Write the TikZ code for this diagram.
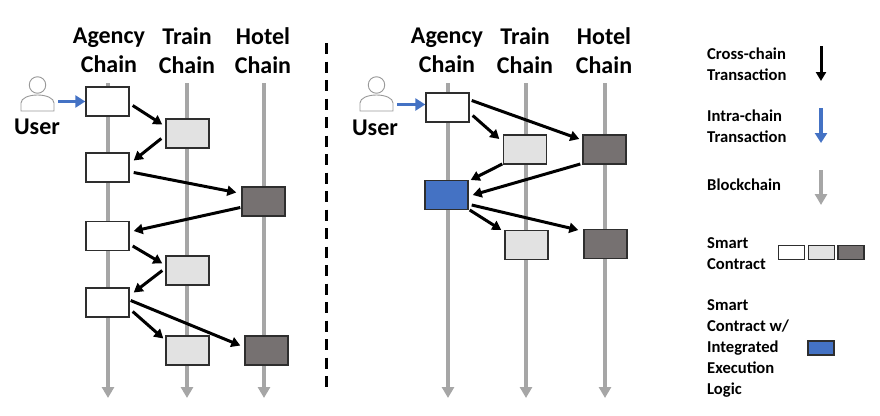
\documentclass[tikz,border=0pt]{standalone}
\usepackage{fontspec}
\setmainfont{Carlito}
\usetikzlibrary{arrows.meta}
\definecolor{chaingray}{HTML}{A6A6A6}
\definecolor{lightbox}{HTML}{E2E2E2}
\definecolor{darkbox}{HTML}{767171}
\definecolor{bluebox}{HTML}{4472C4}
\definecolor{edgegray}{HTML}{2E2E2E}
\tikzset{
  contract/.style={draw=edgegray,line width=1.4pt,minimum width=43pt,minimum height=29pt,inner sep=0pt},
  minibox/.style={draw=edgegray,line width=1.3pt,minimum width=26pt,minimum height=14pt,inner sep=0pt},
  chainarrow/.style={draw=chaingray,line width=3.6pt,-{Triangle[length=11pt,width=12pt]}},
  crossarrow/.style={draw=black,line width=3pt,-{Triangle[length=9pt,width=10pt]}},
  intraarrow/.style={draw=bluebox,line width=3.4pt,-{Triangle[length=10pt,width=12pt]}},
  header/.style={font=\fontsize{24}{29}\selectfont\bfseries,align=center},
  legend/.style={font=\fontsize{16.6}{20.8}\selectfont\bfseries,align=left,anchor=west,inner sep=0pt},
  usericon/.style={draw=gray!80,line width=0.9pt,fill=white}
}
\begin{document}
\begin{tikzpicture}[x=1pt,y=-1pt]
\useasboundingbox (0,0) rectangle (880,415);

% chains
\foreach \name/\xpos in {la/108,lt/187,lh/264,ra/448,rt/526,rh/605}{
  \coordinate (\name top) at (\xpos,83);
  \coordinate (\name end) at (\xpos,398);
  \draw[chainarrow] (\name top) -- (\name end);
}

% headers
\node[header] (h1) at (109,50.5) {Agency\\Chain};
\node[header] (h2) at (187,50.5) {Train\\Chain};
\node[header] (h3) at (263,50.5) {Hotel\\Chain};
\node[header] (h4) at (447,50.5) {Agency\\Chain};
\node[header] (h5) at (525,50.5) {Train\\Chain};
\node[header] (h6) at (604,50.5) {Hotel\\Chain};

% divider
\coordinate (divtop) at (326,43);
\coordinate (divend) at (326,393);
\draw[line width=3pt,dash pattern=on 11pt off 7.5pt] (divtop) -- (divend);

% users
\draw[usericon] (21,111) -- (21,103) .. controls (21,98) and (29,95) .. (37.5,95) .. controls (46,95) and (54,98) .. (54,103) -- (54,111) -- cycle;
\node[usericon,circle,minimum size=16.5pt,inner sep=0pt] (head1) at (37.5,85) {};
\node[header] (user1) at (37,127) {User};
\draw[usericon] (360,111) -- (360,103) .. controls (360,98) and (368,95) .. (376.5,95) .. controls (385,95) and (393,98) .. (393,103) -- (393,111) -- cycle;
\node[usericon,circle,minimum size=16.5pt,inner sep=0pt] (head2) at (376.5,85) {};
\node[header] (user2) at (375,128) {User};

% left contracts
\node[contract,fill=white] (a1) at (107.5,101.5) {};
\node[contract,fill=lightbox] (t1) at (187.5,133.5) {};
\node[contract,fill=white] (a2) at (107.5,167.5) {};
\node[contract,fill=darkbox] (h1b) at (263.5,201.5) {};
\node[contract,fill=white] (a3) at (107.5,236) {};
\node[contract,fill=lightbox] (t2) at (187.5,270.5) {};
\node[contract,fill=white] (a4) at (107.5,302.5) {};
\node[contract,fill=lightbox] (t3) at (187.5,350.5) {};
\node[contract,fill=darkbox] (h2b) at (266.5,350.5) {};

% right contracts
\node[contract,fill=white] (b1) at (447.5,107.5) {};
\node[contract,fill=lightbox] (s1) at (525,149.5) {};
\node[contract,fill=darkbox] (k1) at (604.5,149.5) {};
\node[contract,fill=bluebox] (b2) at (446.5,195) {};
\node[contract,fill=lightbox] (s2) at (526.5,245) {};
\node[contract,fill=darkbox] (k2) at (605.5,244) {};

% left transactions
\coordinate (ustart1) at (58,101.5);
\draw[intraarrow] (ustart1) -- (a1.west);
\draw[crossarrow] ([shift={(3,4)}]a1.east) -- ([shift={(-3,-9)}]t1.west);
\draw[crossarrow] ([shift={(-4,5)}]t1.west) -- ([shift={(4,-7)}]a2.east);
\draw[crossarrow] ([shift={(4,5)}]a2.east) -- ([shift={(-5,-9)}]h1b.west);
\draw[crossarrow] ([shift={(-1,6)}]h1b.west) -- ([shift={(4,-5)}]a3.east);
\draw[crossarrow] ([shift={(3,10)}]a3.east) -- ([shift={(-3,-7)}]t2.west);
\draw[crossarrow] ([shift={(-3,0)}]t2.west) -- ([shift={(4,-10)}]a4.east);
\draw[crossarrow] ([shift={(3,9)}]a4.east) -- ([shift={(-2,-12)}]t3.west);
\draw[crossarrow] ([shift={(1,-2)}]a4.east) -- ([shift={(-4,-5)}]h2b.west);

% right transactions
\coordinate (ustart2) at (397,104.5);
\draw[intraarrow] (ustart2) -- ([shift={(0,-3)}]b1.west);
\draw[crossarrow] ([shift={(2,-7)}]b1.east) -- ([shift={(-3,-10.5)}]k1.west);
\draw[crossarrow] ([shift={(3,8)}]b1.east) -- ([shift={(-3.5,-10.5)}]s1.west);
\draw[crossarrow] ([shift={(-0.5,14.5)}]s1.west) -- ([shift={(2,-15)}]b2.east);
\draw[crossarrow] ([shift={(-2,14.5)}]k1.west) -- ([shift={(4,0)}]b2.east);
\draw[crossarrow] ([shift={(1,15)}]b2.east) -- ([shift={(-3,-15)}]s2.west);
\draw[crossarrow] ([shift={(3,10)}]b2.east) -- ([shift={(-5,-14)}]k2.west);

% legend
\node[legend] (lg1) at (707,64.5) {Cross-chain\\Transaction};
\node[legend] (lg2) at (707,126.5) {Intra-chain\\Transaction};
\node[legend] (lg3) at (707,185) {Blockchain};
\node[legend] (lg4) at (707,253.5) {Smart\\Contract};
\node[legend] (lg5) at (707,348.5) {Smart\\Contract w/\\Integrated\\Execution\\Logic};
\coordinate (cross1) at (821,46);  \coordinate (cross2) at (821,81);
\coordinate (intra1) at (821,108); \coordinate (intra2) at (821,143);
\coordinate (block1) at (821,170); \coordinate (block2) at (821,205);
\draw[crossarrow] (cross1) -- (cross2);
\draw[intraarrow] (intra1) -- (intra2);
\draw[chainarrow] (block1) -- (block2);
\node[minibox,fill=white] (m1) at (791.5,252.5) {};
\node[minibox,fill=lightbox] (m2) at (821.5,252.5) {};
\node[minibox,fill=darkbox] (m3) at (851,252.5) {};
\node[minibox,fill=bluebox] (m4) at (821,348) {};
\end{tikzpicture}
\end{document}
